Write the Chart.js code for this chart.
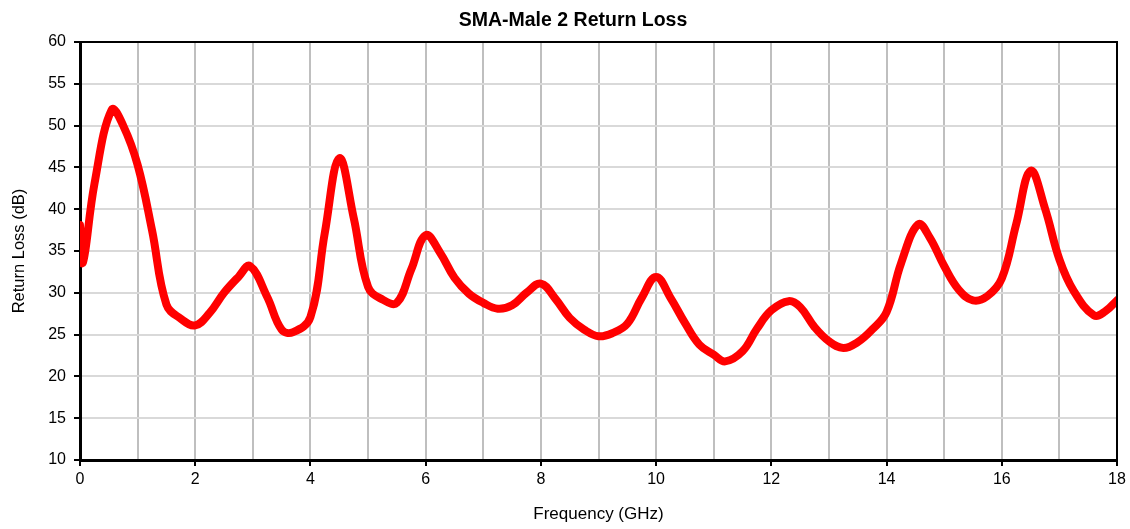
<!DOCTYPE html>
<html>
<head>
<meta charset="utf-8">
<script src="https://cdn.jsdelivr.net/npm/chart.js@4.4.1/dist/chart.umd.min.js"></script>
<style>
  html, body { margin: 0; padding: 0; background: #fff; }
  #wrap { width: 1130px; height: 529px; }
</style>
</head>
<body>
<div id="wrap"><canvas id="rlChart" width="1130" height="529"></canvas></div>
<script>
// --- data ---
const chartTitle = 'SMA-Male 2 Return Loss';
const freqGHz = [0, 0.05, 0.25, 0.55, 0.75, 1.0, 1.25, 1.5, 1.75, 2.0, 2.25, 2.5, 2.75, 2.95,
  3.25, 3.5, 3.7, 4.0, 4.25, 4.5, 4.75, 5.0, 5.25, 5.5, 5.75, 6.0, 6.25, 6.5, 6.75,
  7.0, 7.25, 7.5, 7.75, 8.0, 8.25, 8.5, 8.75, 9.0, 9.25, 9.5, 9.75, 10.0, 10.25, 10.5,
  10.75, 11.0, 11.2, 11.5, 11.75, 12.0, 12.3, 12.5, 12.75, 13.0, 13.25, 13.5, 13.75,
  14.0, 14.25, 14.55, 14.75, 15.0, 15.25, 15.5, 15.75, 16.0, 16.25, 16.5, 16.75,
  17.0, 17.25, 17.6, 17.8, 18.0];
const returnLoss = [38.1, 33.6, 43, 51.9, 50, 45.3, 37.5, 28.6, 26.9, 26.1, 27.6, 30, 31.9, 33.2,
  29.5, 25.6, 25.3, 27.1, 37.2, 46.1, 39.0, 30.7, 29.2, 28.8, 32.8, 36.9, 34.8, 31.8, 29.9,
  28.8, 28.1, 28.5, 30.0, 31.1, 29.3, 27, 25.6, 24.8, 25.2, 26.3, 29.4, 31.9, 29.4, 26.4,
  23.8, 22.6, 21.8, 23, 25.7, 27.9, 29, 28.3, 25.9, 24.2, 23.4, 24.1, 25.6,
  27.7, 33.5, 38.2, 36.6, 33.2, 30.4, 29.1, 29.6, 31.7, 38.2, 44.6, 40.1,
  34, 30.2, 27.3, 27.8, 29.1];
const yTicks = [10, 15, 20, 25, 30, 35, 40, 45, 50, 55, 60];
const xLabelTicks = [0, 2, 4, 6, 8, 10, 12, 14, 16, 18];

const points = freqGHz.map((f, i) => ({ x: f, y: returnLoss[i] }));

// frame on top/right of the plot area + the chart title
const frame = {
  id: 'frame',
  afterDraw(chart) {
    const { ctx, chartArea: a } = chart;
    ctx.save();
    ctx.strokeStyle = '#000';
    ctx.lineWidth = 2;
    ctx.beginPath();
    ctx.moveTo(a.left, a.top);
    ctx.lineTo(a.right, a.top);
    ctx.lineTo(a.right, a.bottom);
    ctx.stroke();

    ctx.fillStyle = '#000';
    ctx.font = "bold 19.5px 'Liberation Sans', Arial, sans-serif";
    ctx.textAlign = 'center';
    ctx.textBaseline = 'middle';
    ctx.fillText(chartTitle, 573, 21);
    ctx.restore();
  }
};

Chart.defaults.font.family = "'Liberation Sans', Arial, sans-serif";
Chart.defaults.color = '#000';

const ctx = document.getElementById('rlChart').getContext('2d');
new Chart(ctx, {
  type: 'scatter',
  data: {
    datasets: [{
      data: points,
      showLine: true,
      borderColor: '#ff0000',
      borderWidth: 8,
      pointRadius: 0,
      tension: 0.4,
      borderCapStyle: 'round',
      borderJoinStyle: 'round'
    }]
  },
  options: {
    responsive: false,
    animation: false,
    layout: { padding: { left: 6, right: 13, top: 42, bottom: 0 } },
    plugins: {
      legend: { display: false },
      tooltip: { enabled: false },
      title: { display: false }
    },
    scales: {
      x: {
        type: 'linear',
        min: 0, max: 18,
        afterBuildTicks: s => { s.ticks = Array.from({ length: 19 }, (_, i) => ({ value: i })); },
        afterFit: s => { s.height = 69; },
        ticks: {
          font: { size: 16 },
          padding: 4,
          maxRotation: 0,
          autoSkip: false,
          callback: v => xLabelTicks.includes(v) ? String(v) : ''
        },
        grid: {
          color: '#bfbfbf',
          lineWidth: 2,
          tickLength: 6,
          tickColor: c => (c.tick && xLabelTicks.includes(c.tick.value)) ? '#000' : 'rgba(0,0,0,0)',
          tickWidth: 2
        },
        border: { color: '#000', width: 3 },
        title: {
          display: true,
          text: 'Frequency (GHz)',
          font: { size: 17 },
          padding: { top: 16 }
        }
      },
      y: {
        min: 10, max: 60,
        afterBuildTicks: s => { s.ticks = yTicks.map(v => ({ value: v })); },
        afterFit: s => { s.width = 74; },
        ticks: { font: { size: 16 }, padding: 8 },
        grid: {
          color: '#d9d9d9',
          lineWidth: 2,
          tickLength: 6,
          tickColor: '#000',
          tickWidth: 2
        },
        border: { color: '#000', width: 3 },
        title: {
          display: true,
          text: 'Return Loss (dB)',
          font: { size: 16.5 },
          padding: { bottom: 8 }
        }
      }
    }
  },
  plugins: [frame]
});
</script>
</body>
</html>
